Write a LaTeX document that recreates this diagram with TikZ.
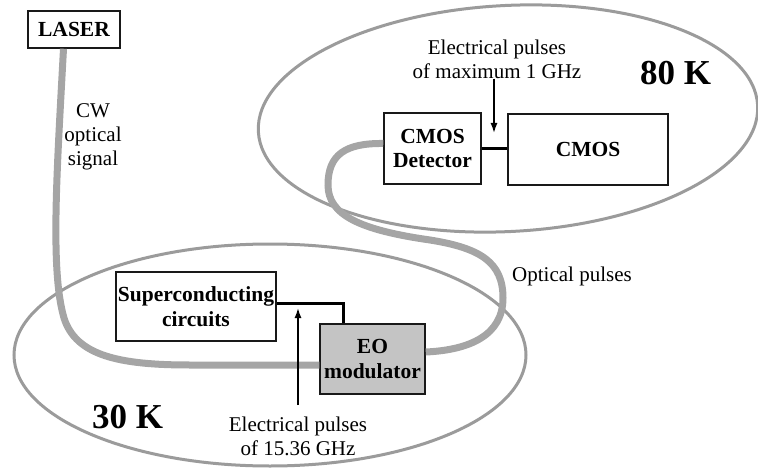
\documentclass[tikz,border=0pt]{standalone}
\usepackage{fontspec}
\setmainfont{Liberation Serif}
\usetikzlibrary{arrows.meta}
\definecolor{ringgray}{RGB}{155,155,155}
\definecolor{fibergray}{RGB}{165,165,165}
\definecolor{eogray}{RGB}{196,196,196}
\begin{document}
\begin{tikzpicture}[x=1pt,y=-1pt,
 blk/.style={draw=black!90, line width=1.5pt, fill=white, inner sep=0pt, align=center, font=\fontsize{21.5}{24.5}\selectfont\bfseries},
 lbl/.style={align=center, inner sep=0pt, font=\fontsize{21}{24}\selectfont},
 ring/.style={draw=ringgray, line width=3pt},
 fiber/.style={draw=fibergray, line width=7pt},
 wire/.style={draw=black, line width=3pt},
 ptr/.style={draw=black, line width=1.5pt, -{Latex[length=10pt,width=7pt]}},
 temp/.style={inner sep=0pt, anchor=base west, font=\fontsize{35}{40}\selectfont\bfseries}]
\useasboundingbox (0,0) rectangle (758,468);
% temperature zones
\draw[ring, rotate around={3:(508,118.5)}] (508,118.5) ellipse [x radius=250, y radius=113];
\draw[ring] (270,355) ellipse [x radius=256, y radius=111];
% boxes
\node[blk, minimum width=92pt, minimum height=37pt] (laser) at (74,29.5) {LASER};
\node[blk, minimum width=97pt, minimum height=71pt] (det) at (432.5,148.5) {CMOS\\Detector};
\node[blk, minimum width=160pt, minimum height=71pt] (cmos) at (588,149.5) {CMOS};
\node[blk, minimum width=160pt, minimum height=69pt] (sc) at (196,306.5) {Superconducting\\circuits};
\node[blk, fill=eogray, minimum width=105pt, minimum height=70pt] (eo) at (372.5,359) {EO\\modulator};
% labels
\node[lbl] (t80) at (497,59) {Electrical pulses\\of maximum 1 GHz};
\node[lbl] (tcw) at (93,137) {CW\\optical\\signal};
\node[lbl, anchor=base west] (topt) at (512,281) {Optical pulses};
\node[lbl] (t30) at (298,436) {Electrical pulses\\of 15.36 GHz};
\node[temp] (k80) at (640,85) {80 K};
\node[temp] (k30) at (92,428) {30 K};
% fibers
\draw[fiber] ([xshift=-10.5pt]laser.south) .. controls (57,170) and (50,270) .. (64,318) .. controls (76,356) and (120,365) .. (190,365) -- ([yshift=-6pt]eo.west);
\draw[fiber] ([yshift=7pt]eo.east) .. controls (470,350) and (503,335) .. (503,298) .. controls (503,262) and (480,248) .. (430,240) .. controls (360,230) and (328,215) .. (328,185) .. controls (328,155) and (345,143) .. ([yshift=5pt]det.west);
% electrical wires
\draw[wire] (det.east) -- (det.east -| cmos.west);
\draw[wire] ([yshift=3pt]sc.east) -| ([xshift=-29.5pt]eo.north);
% pointers
\coordinate (a1e) at (494,133);
\coordinate (a2s) at (298,405);
\coordinate (a2e) at (298,308);
\draw[ptr] (t80.south -| a1e) -- (a1e);
\draw[ptr] (a2s) -- (a2e);
\end{tikzpicture}
\end{document}
